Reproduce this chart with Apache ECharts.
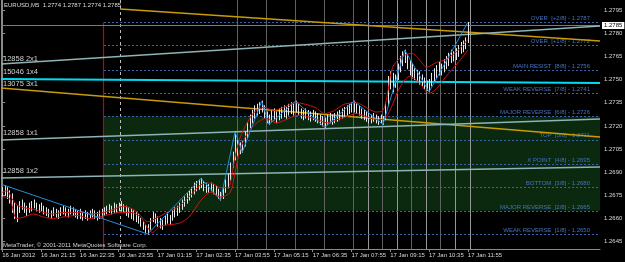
<!DOCTYPE html>
<html><head><meta charset="utf-8">
<script src="https://cdn.jsdelivr.net/npm/echarts@6/dist/echarts.min.js"></script>
<style>html,body{margin:0;padding:0;background:#000}#c{width:625px;height:262px}</style>
</head><body><div id="c"></div>
<script>
// ---- time axis (bar index -> label) ----
const xTickIdx = [0,16,32,48,64,80,96,112,128,144,160,176,192];
const xTickLabels = ['16 Jan 2012','16 Jan 21:15','16 Jan 22:35','16 Jan 23:55','17 Jan 01:15','17 Jan 02:35','17 Jan 03:55','17 Jan 05:15','17 Jan 06:35','17 Jan 07:55','17 Jan 09:15','17 Jan 10:35','17 Jan 11:55'];
const yTickLabels = ['1.2795','1.2780','1.2765','1.2750','1.2735','1.2720','1.2705','1.2690','1.2675','1.2660','1.2645'];

// ---- EURUSD M5 bars: high / low in 1/10000 ----
const barHi = [12680,12681,12680,12678,12676,12670,12668,12671,12672,12670,
12668,12670,12671,12672,12670,12669,12670,12668,12667,12666,
12665,12667,12666,12665,12667,12668,12667,12666,12668,12667,
12666,12665,12666,12664,12665,12664,12665,12666,12665,12664,
12665,12666,12667,12668,12669,12668,12670,12669,12670,12671,
12669,12668,12667,12666,12665,12664,12663,12660,12658,12656,
12656,12660,12664,12663,12661,12660,12659,12662,12664,12662,
12665,12667,12668,12670,12672,12674,12676,12678,12680,12683,
12684,12685,12686,12684,12683,12682,12683,12682,12681,12679,
12677,12680,12685,12689,12696,12703,12716,12712,12709,12710,
12716,12722,12727,12730,12733,12734,12735,12736,12733,12729,
12727,12730,12731,12729,12731,12732,12733,12732,12734,12735,
12734,12736,12734,12731,12730,12731,12730,12729,12730,12729,
12728,12727,12726,12725,12727,12728,12727,12728,12729,12730,
12731,12732,12733,12734,12735,12736,12734,12733,12731,12730,
12729,12728,12727,12728,12727,12726,12727,12726,12735,12752,
12755,12754,12753,12760,12765,12768,12769,12766,12762,12760,
12757,12756,12755,12753,12751,12749,12750,12754,12757,12759,
12761,12760,12763,12765,12767,12769,12768,12770,12772,12774,
12775,12777,12787];
const barLo = [12674,12675,12673,12670,12664,12660,12658,12664,12666,12664,
12662,12664,12665,12667,12665,12664,12665,12663,12662,12661,
12660,12662,12661,12660,12662,12663,12662,12661,12663,12662,
12661,12660,12660,12659,12660,12659,12660,12661,12660,12659,
12660,12661,12662,12663,12664,12663,12664,12664,12665,12665,
12664,12662,12661,12660,12659,12658,12657,12655,12653,12651,
12650,12653,12658,12657,12655,12654,12653,12656,12657,12656,
12659,12661,12662,12664,12666,12668,12670,12672,12674,12676,
12678,12679,12680,12678,12677,12677,12678,12676,12675,12673,
12672,12673,12677,12680,12685,12693,12698,12701,12702,12703,
12707,12712,12719,12722,12725,12727,12728,12729,12725,12722,
12721,12723,12724,12722,12724,12725,12726,12725,12727,12728,
12727,12729,12727,12725,12724,12725,12724,12723,12724,12723,
12722,12721,12720,12719,12721,12722,12721,12722,12723,12724,
12725,12726,12727,12728,12729,12729,12728,12727,12725,12724,
12723,12722,12722,12723,12722,12721,12722,12721,12724,12733,
12744,12742,12745,12750,12755,12759,12761,12757,12753,12751,
12750,12749,12747,12746,12744,12743,12742,12746,12749,12751,
12753,12753,12755,12757,12759,12761,12762,12763,12765,12767,
12768,12770,12774];

// ---- red envelope lines [bar index, price*1e4] ----
const redUpper = [[0,12677],[2,12678],[4,12673],[6,12669],[9,12667],[13,12666],[17,12664],[21,12663],[25,12664],[29,12664],[33,12664],[37,12663],[42,12664],[46,12666],[50,12668],[54,12666],[57,12662],[60,12658],[62,12659],[68,12664],[73,12668],[77,12674],[82,12682],[86,12683],[90,12680],[93,12680],[96,12700],[98,12712],[101,12722],[104,12729],[108,12732],[112,12730],[116,12732],[121,12735],[125,12734],[129,12732],[133,12728],[137,12730],[141,12734],[146,12735],[150,12732],[154,12729],[157,12730],[159,12742],[161,12758],[165,12765],[169,12767],[172,12763],[175,12758],[179,12761],[183,12763],[188,12769],[192,12776]];
const redLower = [[0,12674],[3,12673],[6,12660],[9,12661],[13,12663],[17,12661],[21,12660],[25,12661],[31,12662],[36,12660],[40,12661],[45,12663],[49,12664],[53,12664],[57,12661],[60,12654],[62,12651],[65,12655],[73,12657],[77,12661],[82,12672],[86,12677],[90,12674],[94,12677],[96,12690],[98,12704],[101,12715],[105,12722],[109,12725],[113,12722],[117,12724],[122,12727],[126,12726],[130,12724],[134,12722],[138,12724],[142,12726],[146,12728],[150,12726],[155,12724],[158,12725],[161,12734],[164,12745],[168,12752],[172,12748],[176,12741],[179,12744],[183,12752],[188,12761],[192,12769]];
// ---- zigzag vertices ----
const zigzag = [[0,12682],[60,12650],[82,12686],[90,12672],[96,12716],[99,12703],[107,12736],[110,12721],[121,12736],[133,12719],[145,12736],[157,12721],[166,12769],[176,12742],[192,12787]];

// ---- Murrey math levels ----
const murreyLevels = [1.2787,1.2772,1.2756,1.2741,1.2726,1.2711,1.2695,1.2680,1.2665,1.2650];
const murreyNames = ['OVER  [+2/8]','OVER  [+1/8]','MAIN RESIST  [8/8]','WEAK REVERSE  [7/8]','MAJOR REVERSE  [6/8]','TOP  [5/8]','X POINT  [4/8]','BOTTOM  [3/8]','MAJOR REVERSE  [2/8]','WEAK REVERSE  [1/8]'];
const murreyStart = 42;
const greenZone = [1.2726, 1.2665];

// ---- trend / gann lines [bar index, price] ----
const orangeLow = [[-0.5,1.27445],[246.5,1.27128]];
const orangeTop = [[48.6,1.27956],[246.5,1.27750]];
const gann2x1 = [[-0.5,1.27600],[246.5,1.27846]];
const gann1x1 = [[-0.5,1.27109],[246.5,1.27245]];
const gann1x2 = [[-0.5,1.26863],[246.5,1.26934]];
const cyanLine = [[-0.5,1.27503],[246.5,1.27478]];
const gannLabels = ['12858 2x1','15046 1x4','13075 3x1','12858 1x1','12858 1x2'];

// ---- vertical time lines (bar index) ----
const timeLinesDim = [96.8,108.8,120.8,132.8,144.8,156.8,168.8,180.8];
const timeLinesBright = [150.8,162.8,174.8,186.8,192.8];
const redVertical = 41.7;
const daySeparator = 48.5;
const bidPrice = 1.2785;
const header = 'EURUSD,M5  1.2774 1.2787 1.2774 1.2785';

const xMin = -0.5, xMax = 246.5, yMin = 1.26403, yMax = 1.28015;
const FONT = 'Liberation Sans';

const chart = echarts.init(document.getElementById('c'), null, {renderer:'canvas'});
const lineSeries = (data, color, width, z) => ({
  type:'line', data, showSymbol:false, symbol:'none', silent:true, animation:false, z,
  lineStyle:{color, width}
});

const option = {
  backgroundColor:'#000',
  animation:false,
  grid:{left:1, right:25, top:0, bottom:13, show:false, outerBoundsMode:'none', containLabel:false},
  xAxis:[{type:'value', min:xMin, max:xMax,
    axisLine:{show:true, lineStyle:{color:'#8a8a8a'}},
    axisTick:{show:true, length:3, lineStyle:{color:'#8a8a8a'}, customValues:xTickIdx},
    axisLabel:{customValues:xTickIdx, align:'left', margin:3, color:'#d8d8d8', fontSize:6, fontFamily:FONT,
      formatter:v=>{const k=xTickIdx.indexOf(Math.round(v)); return k>=0?xTickLabels[k]:'';}},
    splitLine:{show:false}}],
  yAxis:[{type:'value', position:'right', min:yMin, max:yMax, scale:true,
    axisLine:{show:true, lineStyle:{color:'#8a8a8a'}},
    axisTick:{show:true, length:3, lineStyle:{color:'#8a8a8a'}, customValues:yTickLabels.map(Number)},
    axisLabel:{customValues:yTickLabels.map(Number), margin:4, color:'#d8d8d8', fontSize:6, fontFamily:FONT,
      formatter:v=>v.toFixed(4)},
    splitLine:{show:false}},
    {type:'value', position:'left', min:yMin, max:yMax, scale:true,
    axisLine:{show:true, lineStyle:{color:'#8a8a8a'}}, axisTick:{show:false}, axisLabel:{show:false}, splitLine:{show:false}}],
  graphic:[
    {type:'text', left:4, top:2, style:{text:header, fill:'#dcdcdc', font:'6px '+FONT}, z:100},
    {type:'text', left:3, top:55, style:{text:gannLabels[0], fill:'#d0d0d0', font:'7.5px '+FONT}, z:100},
    {type:'text', left:3, top:68, style:{text:gannLabels[1], fill:'#d0d0d0', font:'7.5px '+FONT}, z:100},
    {type:'text', left:3, top:80, style:{text:gannLabels[2], fill:'#d0d0d0', font:'7.5px '+FONT}, z:100},
    {type:'text', left:3, top:129, style:{text:gannLabels[3], fill:'#d0d0d0', font:'7.5px '+FONT}, z:100},
    {type:'text', left:3, top:167, style:{text:gannLabels[4], fill:'#d0d0d0', font:'7.5px '+FONT}, z:100},
    {type:'text', left:3, top:242, style:{text:'MetaTrader, \u00a9 2001-2011 MetaQuotes Software Corp.', fill:'#d0d0d0', font:'6px '+FONT}, z:100}
  ],
  series:[
    {type:'line', data:[], silent:true, z:1,
      markArea:{silent:true, itemStyle:{color:'#0a290e', borderWidth:0},
        data:[[{coord:[murreyStart, greenZone[0]]},{coord:[xMax, greenZone[1]]}]]}},
    {type:'line', data:[], silent:true, z:2,
      markLine:{silent:true, symbol:['none','none'], animation:false,
        data:[
          ...timeLinesDim.map(v=>({xAxis:v, lineStyle:{color:'#606060', width:1, type:'solid'}, label:{show:false}})),
          ...timeLinesBright.map(v=>({xAxis:v, lineStyle:{color:'#979797', width:1, type:'solid'}, label:{show:false}})),
          {xAxis:daySeparator, lineStyle:{color:'#bdbdbd', width:1, type:[3,3]}, label:{show:false}},
          [{coord:[redVertical, murreyLevels[0]], lineStyle:{color:'#cc0000', width:1.2, type:'solid'}, label:{show:false}},{coord:[redVertical, yMin]}]
        ]}},
    {type:'line', data:[], silent:true, z:3,
      markLine:{silent:true, symbol:['none','none'], animation:false,
        lineStyle:{color:'#3a66b0', width:1, type:[2,2]},
        label:{show:true, position:'insideEndTop', distance:[10,1], color:'#4673bd', fontSize:6, fontFamily:FONT},
        data: murreyLevels.map((lv,k)=>[{coord:[murreyStart, lv], label:{formatter: murreyNames[k]+' - '+lv.toFixed(4)}},{coord:[xMax, lv]}])}},
    {type:'line', data:[], silent:true, z:4,
      markLine:{silent:true, symbol:['none','none'], animation:false,
        lineStyle:{color:'#7a7a7a', width:1, type:'solid'},
        label:{show:true, position:'end', distance:2, formatter:bidPrice.toFixed(4), backgroundColor:'#ffffff', color:'#000', fontSize:6, fontFamily:FONT, padding:[1,2,0,2]},
        data:[[{coord:[xMin, bidPrice]},{coord:[xMax, bidPrice]}]]}},
    lineSeries(orangeLow, '#c99a0a', 1.5, 5),
    lineSeries(orangeTop, '#c99a0a', 1.5, 5),
    lineSeries(gann2x1, '#8fb4b4', 1.5, 5),
    lineSeries(gann1x1, '#8fb4b4', 1.5, 5),
    lineSeries(gann1x2, '#8fb4b4', 1.5, 5),
    lineSeries(cyanLine, '#00dcf2', 2, 5),
    {type:'custom', silent:true, z:10, animation:false,
      renderItem:(params, api)=>{
        const x=api.value(0), lo=api.value(1), hi=api.value(2);
        const a=api.coord([x,lo]), b=api.coord([x,hi]);
        const px=Math.round(a[0])+0.5;
        return {type:'line', shape:{x1:px, y1:a[1]+0.5, x2:px, y2:b[1]-0.5}, style:{stroke:'#e6e6e6', lineWidth:1}};
      },
      encode:{x:0, y:[1,2]},
      data: barHi.map((h,i)=>[i, barLo[i]/1e4, h/1e4])},
    {type:'line', data: redUpper.map(p=>[p[0], p[1]/1e4]), showSymbol:false, symbol:'none', smooth:0.3, silent:true, z:11, lineStyle:{color:'#d01212', width:1}},
    {type:'line', data: redLower.map(p=>[p[0], p[1]/1e4]), showSymbol:false, symbol:'none', smooth:0.3, silent:true, z:11, lineStyle:{color:'#d01212', width:1}},
    {type:'line', data: zigzag.map(p=>[p[0], p[1]/1e4]), showSymbol:false, symbol:'none', silent:true, z:12, lineStyle:{color:'#1e8fe0', width:1}}
  ]
};
chart.setOption(option);
</script></body></html>
